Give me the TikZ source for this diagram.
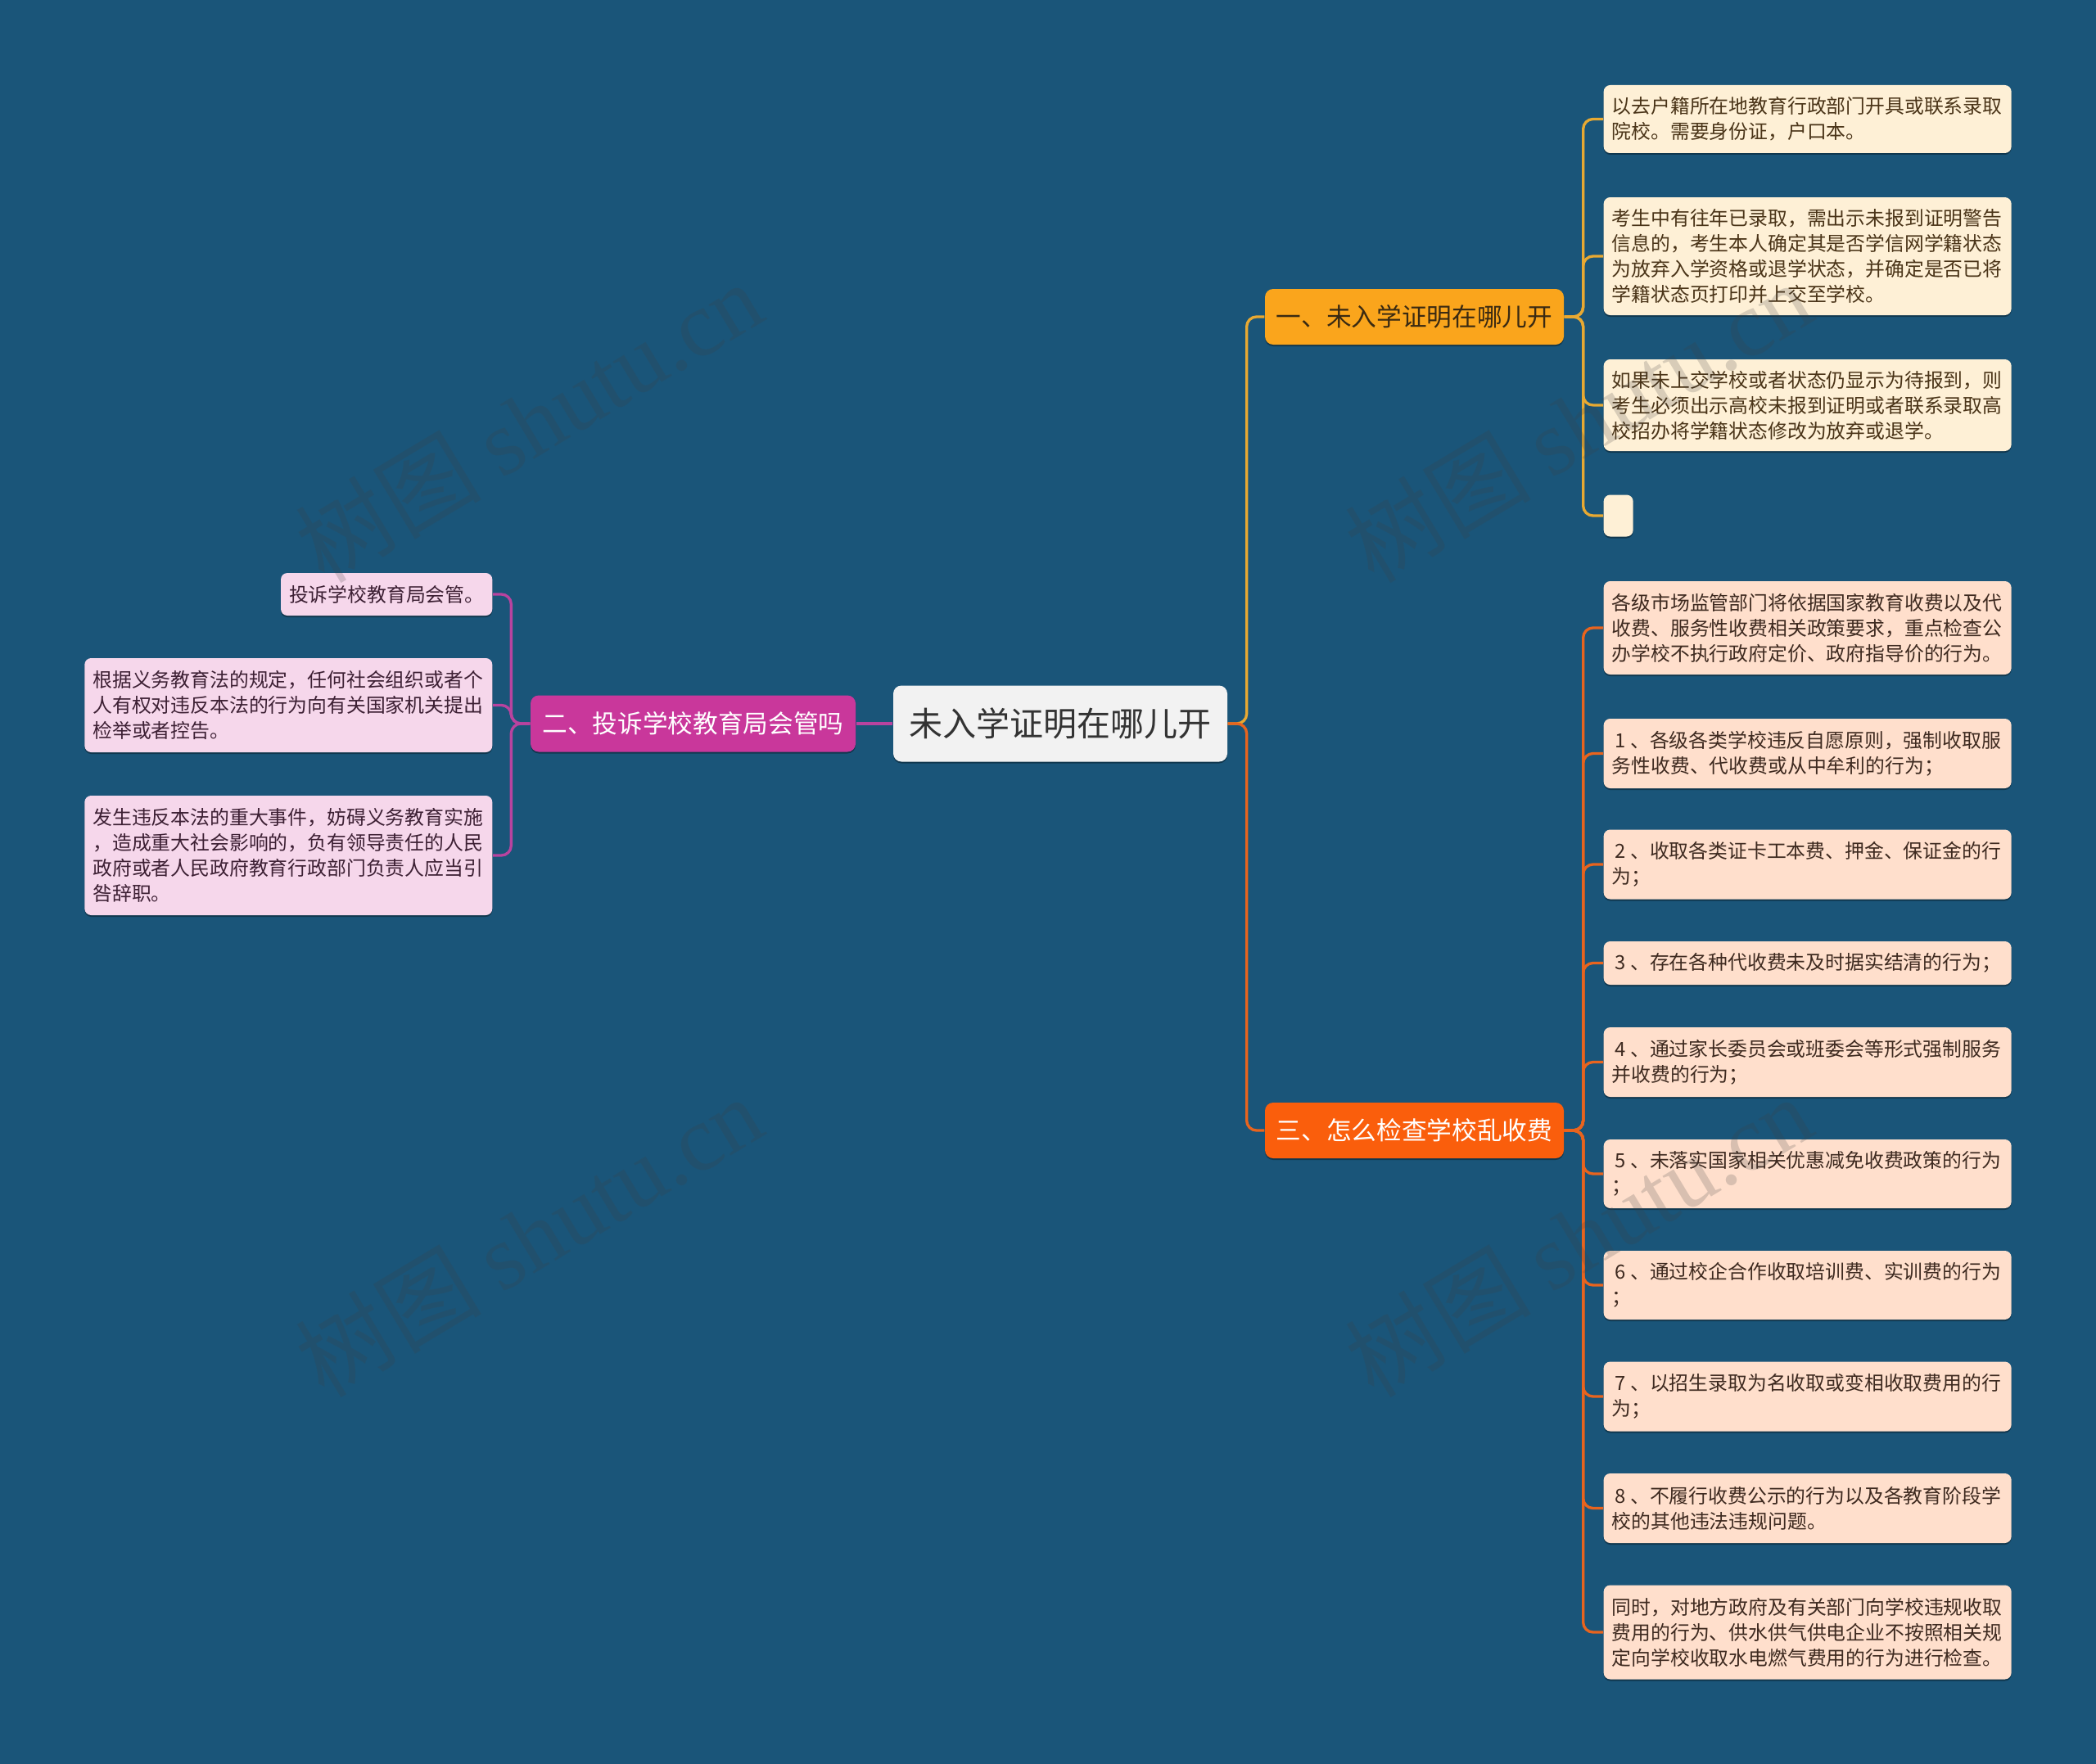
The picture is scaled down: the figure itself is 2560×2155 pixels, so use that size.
\documentclass[tikz,border=0pt]{standalone}
\usepackage{fontspec}
\newfontfamily\cjk{Noto Sans CJK SC}
\newfontfamily\wmlatin{Liberation Serif}
\usetikzlibrary{shadows}

\definecolor{bg}{HTML}{1A5579}
\definecolor{rootfill}{HTML}{F2F2F2}
\definecolor{rootText}{HTML}{333333}
\definecolor{bAfill}{HTML}{FAA51C}
\definecolor{bAline}{HTML}{E8A932}
\definecolor{bAtext}{HTML}{3A2A12}
\definecolor{bBfill}{HTML}{C9379B}
\definecolor{bBline}{HTML}{B8439F}
\definecolor{bCfill}{HTML}{FA5E0C}
\definecolor{bCline}{HTML}{E8641E}
\definecolor{lAfill}{HTML}{FEF0D6}
\definecolor{lAtext}{HTML}{4A3418}
\definecolor{lBfill}{HTML}{F6D7EB}
\definecolor{lBtext}{HTML}{3D2034}
\definecolor{lCfill}{HTML}{FFDFCC}
\definecolor{lCtext}{HTML}{3E2A20}

\newcommand{\numlead}[1]{\kern1.2pt#1\kern1.6pt}

\tikzset{
  shade/.style={drop shadow={shadow xshift=0pt, shadow yshift=-0.6pt, opacity=0.35, fill=black}},
  rootbox/.style={rounded corners=3pt, fill=rootfill, text=rootText, shade,
    minimum width=122.4pt, minimum height=27.9pt, inner sep=0pt,
    font=\cjk\fontsize{12.3}{14}\selectfont},
  branchbox/.style={rounded corners=3pt, shade, inner sep=0pt,
    minimum width=109.5pt, minimum height=20.4pt,
    font=\cjk\fontsize{9.2}{11}\selectfont},
  leafbox/.style={rounded corners=2.4pt, shade, inner xsep=3pt, inner ysep=0pt,
    align=left, font=\cjk\fontsize{7.15}{9.3}\selectfont},
  leafwide/.style={leafbox, text width=143.4pt},
  leafA/.style={leafwide, fill=lAfill, text=lAtext},
  leafB/.style={leafwide, fill=lBfill, text=lBtext},
  leafC/.style={leafwide, fill=lCfill, text=lCtext},
  conn/.style={line width=1pt, rounded corners=3.6pt},
  wm/.style={text=black!75, opacity=0.2, rotate=31, inner sep=0pt}
}

\begin{document}
\begin{tikzpicture}[x=0.3pt, y=-0.3pt]
\fill[bg] (0,0) rectangle (2560,2155);
\useasboundingbox (0,0) rectangle (2560,2155);

% root and branches
\node[rootbox] (root) at (1295,884) {未入学证明在哪儿开};
\node[branchbox, fill=bAfill, text=bAtext] (b1) at (1727.5,387) {一、未入学证明在哪儿开};
\node[branchbox, fill=bBfill, text=white, minimum width=119.1pt, minimum height=20.7pt] (b2) at (846.5,884) {二、投诉学校教育局会管吗};
\node[branchbox, fill=bCfill, text=white] (b3) at (1727.5,1381) {三、怎么检查学校乱收费};

% branch 1 leaves
\node[leafA, anchor=west, minimum height=24.9pt] (a1) at (1958,145.5) {以去户籍所在地教育行政部门开具或联系录取\\院校。需要身份证，户口本。};
\node[leafA, anchor=west, minimum height=43.2pt] (a2) at (1958,313) {考生中有往年已录取，需出示未报到证明警告\\信息的，考生本人确定其是否学信网学籍状态\\为放弃入学资格或退学状态，并确定是否已将\\学籍状态页打印并上交至学校。};
\node[leafA, anchor=west, minimum height=33.6pt] (a3) at (1958,495) {如果未上交学校或者状态仍显示为待报到，则\\考生必须出示高校未报到证明或者联系录取高\\校招办将学籍状态修改为放弃或退学。};
\node[leafbox, fill=lAfill, anchor=west, minimum width=10.8pt, minimum height=15.3pt, inner sep=0pt] (a4) at (1958,630) {};

% branch 3 leaves
\node[leafC, anchor=west, minimum height=34.2pt] (c1) at (1958,767) {各级市场监管部门将依据国家教育收费以及代\\收费、服务性收费相关政策要求，重点检查公\\办学校不执行政府定价、政府指导价的行为。};
\node[leafC, anchor=west, minimum height=25.5pt] (c2) at (1958,920.5) {\numlead{1}、各级各类学校违反自愿原则，强制收取服\\务性收费、代收费或从中牟利的行为；};
\node[leafC, anchor=west, minimum height=25.5pt] (c3) at (1958,1056) {\numlead{2}、收取各类证卡工本费、押金、保证金的行\\为；};
\node[leafC, anchor=west, minimum height=15.9pt] (c4) at (1958,1176.5) {\numlead{3}、存在各种代收费未及时据实结清的行为；};
\node[leafC, anchor=west, minimum height=25.5pt] (c5) at (1958,1297.5) {\numlead{4}、通过家长委员会或班委会等形式强制服务\\并收费的行为；};
\node[leafC, anchor=west, minimum height=25.2pt] (c6) at (1958,1434) {\numlead{5}、未落实国家相关优惠减免收费政策的行为\\；};
\node[leafC, anchor=west, minimum height=25.2pt] (c7) at (1958,1570) {\numlead{6}、通过校企合作收取培训费、实训费的行为\\；};
\node[leafC, anchor=west, minimum height=25.5pt] (c8) at (1958,1706) {\numlead{7}、以招生录取为名收取或变相收取费用的行\\为；};
\node[leafC, anchor=west, minimum height=25.5pt] (c9) at (1958,1842.5) {\numlead{8}、不履行收费公示的行为以及各教育阶段学\\校的其他违法违规问题。};
\node[leafC, anchor=west, minimum height=34.5pt] (c10) at (1958,1994) {同时，对地方政府及有关部门向学校违规收取\\费用的行为、供水供气供电企业不按照相关规\\定向学校收取水电燃气费用的行为进行检查。};

% branch 2 leaves
\node[leafbox, fill=lBfill, text=lBtext, anchor=east, minimum height=15.6pt] (t1) at (602,726) {投诉学校教育局会管。};
\node[leafB, anchor=east, minimum height=34.5pt] (t2) at (602,861.5) {根据义务教育法的规定，任何社会组织或者个\\人有权对违反本法的行为向有关国家机关提出\\检举或者控告。};
\node[leafB, anchor=east, minimum height=43.8pt] (t3) at (602,1045) {发生违反本法的重大事件，妨碍义务教育实施\\，造成重大社会影响的，负有领导责任的人民\\政府或者人民政府教育行政部门负责人应当引\\咎辞职。};

% connectors root -> branches
\draw[conn, bAline] (root.east) -- ++(23,0) |- (b1.west);
\draw[conn, bCline] (root.east) -- ++(23,0) |- (b3.west);
\draw[conn, bBline] (root.west) -- (b2.east);

% branch 1 -> leaves
\foreach \n in {a1,a2,a3,a4}
  \draw[conn, bAline] (b1.east) -- ++(23,0) |- (\n.west);
% branch 3 -> leaves
\foreach \n in {c1,c2,c3,c4,c5,c6,c7,c8,c9,c10}
  \draw[conn, bCline] (b3.east) -- ++(23,0) |- (\n.west);
% branch 2 -> leaves
\foreach \n in {t1,t2,t3}
  \draw[conn, bBline] (b2.west) -- ++(-23,0) |- (\n.east);

% watermarks
\node[wm] (w1) at (646,515) {\cjk\fontsize{34}{34}\selectfont 树图 \wmlatin shutu.cn};
\node[wm] (w2) at (646,1510) {\cjk\fontsize{34}{34}\selectfont 树图 \wmlatin shutu.cn};
\node[wm] (w3) at (1928,515) {\cjk\fontsize{34}{34}\selectfont 树图 \wmlatin shutu.cn};
\node[wm] (w4) at (1928,1510) {\cjk\fontsize{34}{34}\selectfont 树图 \wmlatin shutu.cn};
\end{tikzpicture}
\end{document}
